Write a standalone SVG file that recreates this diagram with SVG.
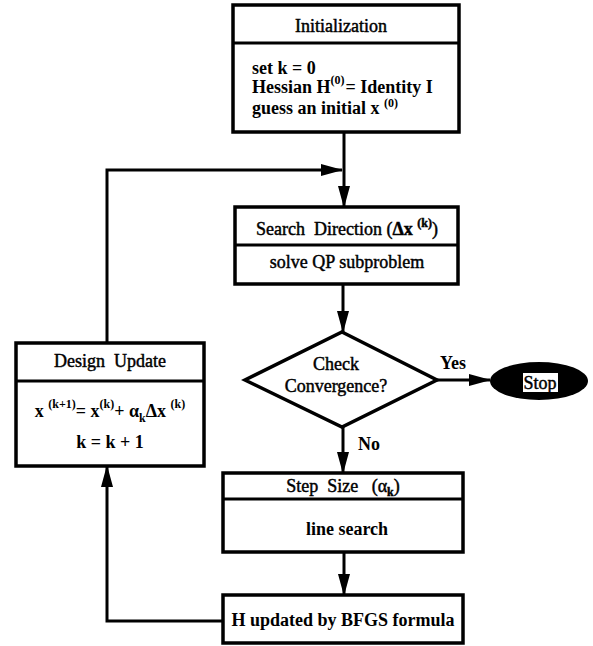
<svg xmlns="http://www.w3.org/2000/svg" width="593" height="646" viewBox="0 0 593 646">
  <style>
    .box { fill: #fff; stroke: #000; stroke-width: 3.5; }
    .div { stroke: #000; stroke-width: 3; }
    .wire { fill: none; stroke: #000; stroke-width: 3; }
    text { font-family: "Liberation Serif", "Times New Roman", serif; font-size: 18px; fill: #000; }
    .hd { font-weight: normal; stroke: #000; stroke-width: 0.45; }
    .bd { font-weight: bold; }
    .sup { font-size: 12px; font-weight: bold; }
  </style>
  <defs>
    <marker id="arrow" markerUnits="userSpaceOnUse" markerWidth="22" markerHeight="12" refX="21" refY="6" orient="auto">
      <path d="M0,0 L22,6 L0,12 z" fill="#000"/>
    </marker>
  </defs>

  <rect width="593" height="646" fill="#fff"/>

  <!-- connectors -->
  <g id="connectors">
    <line class="wire" x1="344" y1="132" x2="344" y2="207" marker-end="url(#arrow)"/>
    <polyline class="wire" points="107,343 107,170 342,170" marker-end="url(#arrow)"/>
    <line class="wire" x1="343" y1="284" x2="343" y2="332" marker-end="url(#arrow)"/>
    <line class="wire" x1="437" y1="380" x2="490" y2="380" marker-end="url(#arrow)"/>
    <line class="wire" x1="343" y1="427" x2="343" y2="473" marker-end="url(#arrow)"/>
    <line class="wire" x1="344" y1="552" x2="344" y2="595" marker-end="url(#arrow)"/>
    <polyline class="wire" points="223,621 107,621 107,466" marker-end="url(#arrow)"/>
    <text class="bd" x="440" y="369">Yes</text>
    <text class="bd" x="358" y="450">No</text>
  </g>

  <!-- initialization -->
  <g id="init">
    <rect class="box" x="233" y="5" width="226" height="127"/>
    <line class="div" x1="233" y1="43" x2="459" y2="43"/>
    <text class="hd" x="341" y="32" text-anchor="middle">Initialization</text>
    <text class="bd" x="252" y="74">set k = 0</text>
    <text class="bd" x="252" y="93">Hessian H<tspan class="sup" dy="-9">(0)</tspan><tspan dx="1" dy="9">= Identity I</tspan></text>
    <text class="bd" x="252" y="114">guess an initial x <tspan class="sup" dy="-7">(0)</tspan></text>
  </g>

  <!-- search direction -->
  <g id="search">
    <rect class="box" x="235" y="207" width="223" height="77"/>
    <line class="div" x1="235" y1="245" x2="458" y2="245"/>
    <text class="hd" x="347" y="235" text-anchor="middle" xml:space="preserve">Search  Direction (<tspan class="bd">Δx </tspan><tspan class="sup" font-weight="normal" dy="-8">(k)</tspan><tspan dy="8">)</tspan></text>
    <text class="hd" x="347" y="268" text-anchor="middle">solve QP subproblem</text>
  </g>

  <!-- convergence check -->
  <g id="check">
    <polygon points="342,332 437,380 342,427 245,380" fill="#fff" stroke="#000" stroke-width="3.5" stroke-linejoin="miter"/>
    <text class="hd" x="336" y="370" text-anchor="middle">Check</text>
    <text class="hd" x="336" y="392" text-anchor="middle">Convergence?</text>
  </g>

  <!-- stop -->
  <g id="stop">
    <ellipse cx="539" cy="381" rx="49" ry="19" fill="#000"/>
    <rect x="523" y="373" width="35" height="19" fill="#fff"/>
    <text class="hd" x="540" y="389" text-anchor="middle">Stop</text>
  </g>

  <!-- design update -->
  <g id="update">
    <rect class="box" x="16" y="343" width="188" height="123"/>
    <line class="div" x1="16" y1="381" x2="204" y2="381"/>
    <text class="hd" x="110" y="367" text-anchor="middle" xml:space="preserve">Design  Update</text>
    <text class="bd" x="110" y="417" text-anchor="middle">x <tspan class="sup" dy="-9">(k+1)</tspan><tspan dy="9">= x</tspan><tspan class="sup" dy="-9">(k)</tspan><tspan dy="9">+ α</tspan><tspan class="sup" dy="5">k</tspan><tspan dy="-5">Δx </tspan><tspan class="sup" dy="-9">(k)</tspan></text>
    <text class="bd" x="110" y="448" text-anchor="middle">k = k + 1</text>
  </g>

  <!-- step size -->
  <g id="step">
    <rect class="box" x="223" y="473" width="240" height="79"/>
    <line class="div" x1="223" y1="499" x2="463" y2="499"/>
    <text class="hd" x="343" y="492" text-anchor="middle" xml:space="preserve">Step  Size   (α<tspan class="sup" font-weight="normal" dy="4">k</tspan><tspan dy="-4">)</tspan></text>
    <text class="bd" x="347" y="535" text-anchor="middle">line search</text>
  </g>

  <!-- hessian update -->
  <g id="bfgs">
    <rect class="box" x="223" y="595" width="240" height="48"/>
    <text class="bd" x="343" y="626" text-anchor="middle">H updated by BFGS formula</text>
  </g>
</svg>
